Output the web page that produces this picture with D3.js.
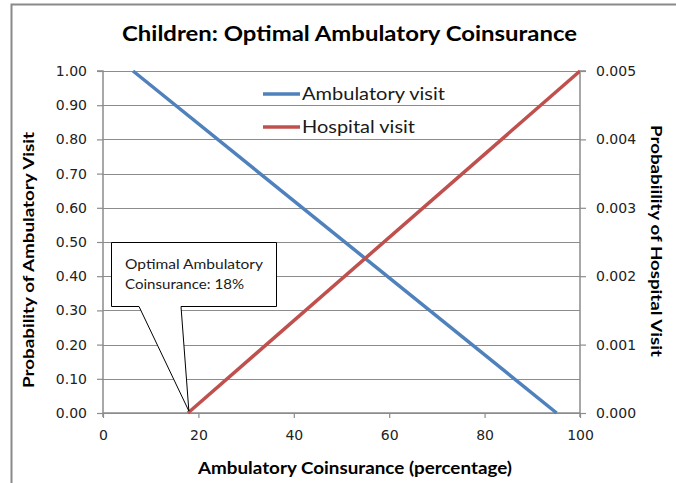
<!DOCTYPE html>
<html>
<head>
<meta charset="utf-8">
<script src="https://cdn.jsdelivr.net/npm/d3@7"></script>
<style>
  html, body { margin: 0; padding: 0; background: #fff; }
  svg { display: block; }
</style>
</head>
<body>
<svg id="chart" width="676" height="483"></svg>
<script>
// ---- data ----
const xTicks = [0, 20, 40, 60, 80, 100];
const leftTicks = [0, 0.1, 0.2, 0.3, 0.4, 0.5, 0.6, 0.7, 0.8, 0.9, 1.0];
const rightTicks = [0, 0.001, 0.002, 0.003, 0.004, 0.005];
const ambulatoryX = [6.3, 95.1];
const ambulatoryY = [1.0, 0.0];
const hospitalX = [17.8, 100];
const hospitalY = [0.0, 0.005];
const seriesNames = ["Ambulatory visit", "Hospital visit"];
const optimalCoinsurance = 18;
const calloutLines = ["Optimal Ambulatory", "Coinsurance: 18%"];
const titleText = "Children: Optimal Ambulatory Coinsurance";
const xTitle = "Ambulatory Coinsurance (percentage)";
const yLeftTitle = "Probability of Ambulatory Visit";
const yRightTitle = "Probabiility of Hospital Visit";

// ---- layout ----
const svg = d3.select("#chart");
const L = 103, R = 580, T = 71, B = 413;
const gridColor = "#8c8c8c";
const blue = "#4F81BD", red = "#C0504D";
const tickFont = "'DejaVu Sans', Verdana, sans-serif";
const titleFont = "Lato, 'Open Sans', sans-serif";

const x = d3.scaleLinear().domain([0, 100]).range([L, R]);
const yL = d3.scaleLinear().domain([0, 1]).range([B, T]);
const yR = d3.scaleLinear().domain([0, 0.005]).range([B, T]);

// outer frame
svg.append("rect").attr("x", 11.5).attr("y", 4.5).attr("width", 700).attr("height", 500)
  .attr("fill", "#fff").attr("stroke", "#8a8a8a").attr("stroke-width", 2);

// gridlines
svg.append("g").selectAll("line").data(leftTicks).join("line")
  .attr("x1", L).attr("x2", R)
  .attr("y1", d => Math.round(yL(d)) + 0.5).attr("y2", d => Math.round(yL(d)) + 0.5)
  .attr("stroke", gridColor).attr("stroke-width", 1);

// axes
const axL = d3.axisLeft(yL).tickValues(leftTicks).tickFormat(d3.format(".2f")).tickSize(6).tickPadding(10);
const axR = d3.axisRight(yR).tickValues(rightTicks).tickFormat(d3.format(".3f")).tickSize(6).tickPadding(10);
const axB = d3.axisBottom(x).tickValues(xTicks).tickFormat(d3.format("d")).tickSize(5).tickPadding(12);

function styleAxis(g) {
  g.select(".domain").attr("stroke", gridColor).attr("stroke-width", 1.5);
  g.selectAll(".tick line").attr("stroke", gridColor).attr("stroke-width", 1.2);
  g.selectAll(".tick text").attr("fill", "#222").style("font-family", tickFont).style("font-size", "14px");
}
svg.append("g").attr("transform", `translate(${L},0)`).call(axL).call(styleAxis)
  .call(g => g.select(".domain").attr("d", `M-6,${T}H0V${B + 4}`));
svg.append("g").attr("transform", `translate(${R},0)`).call(axR).call(styleAxis)
  .call(g => g.select(".domain").attr("d", `M6,${T}H0V${B + 4}`));
svg.append("g").attr("transform", `translate(0,${B})`).call(axB).call(styleAxis)
  .call(g => g.select(".domain").attr("d", `M${L},0H${R}`));

// clip
svg.append("clipPath").attr("id", "plotclip").append("rect")
  .attr("x", L).attr("y", T - 2).attr("width", R - L).attr("height", B - T + 4);

const lineL = d3.line().x(d => x(d[0])).y(d => yL(d[1]));
const lineR = d3.line().x(d => x(d[0])).y(d => yR(d[1]));
const ambData = ambulatoryX.map((v, i) => [v, ambulatoryY[i]]);
const hospData = hospitalX.map((v, i) => [v, hospitalY[i]]);

svg.append("path").attr("d", lineL(ambData)).attr("fill", "none")
  .attr("stroke", blue).attr("stroke-width", 3.5).attr("clip-path", "url(#plotclip)");
svg.append("path").attr("d", lineR(hospData)).attr("fill", "none")
  .attr("stroke", red).attr("stroke-width", 3.5).attr("clip-path", "url(#plotclip)");

// legend
const legend = svg.append("g");
[[blue, 94], [red, 127]].forEach(([c, yy], i) => {
  legend.append("line").attr("x1", 263).attr("x2", 300).attr("y1", yy).attr("y2", yy)
    .attr("stroke", c).attr("stroke-width", 3.5);
  legend.append("text").attr("x", 302).attr("y", yy).attr("dy", "0.36em")
    .attr("fill", "#1a1a1a").style("font-family", titleFont).style("font-size", "18px")
    .attr("textLength", i === 0 ? 143 : 113).attr("lengthAdjust", "spacingAndGlyphs")
    .text(seriesNames[i]);
});

// callout
const tipX = x(optimalCoinsurance), tipY = yL(0) - 2;
const bx0 = 111.5, bx1 = 276.5, by0 = 242.5, by1 = 306.5;
const callout = `M${bx0},${by0}H${bx1}V${by1}H181L${tipX},${tipY}L139,${by1}H${bx0}Z`;
svg.append("path").attr("d", callout).attr("fill", "#fff").attr("stroke", "#000").attr("stroke-width", 1);
calloutLines.forEach((t, i) => {
  svg.append("text").attr("x", 125).attr("y", 264 + i * 20).attr("dy", "0.36em")
    .attr("fill", "#1a1a1a").style("font-family", titleFont).style("font-size", "14px")
    .attr("textLength", i === 0 ? 138 : 119).attr("lengthAdjust", "spacingAndGlyphs")
    .text(t);
});

// titles
svg.append("text").attr("x", 349.5).attr("y", 33).attr("dy", "0.36em").attr("text-anchor", "middle")
  .style("font-family", titleFont).style("font-size", "21px").style("font-weight", "bold")
  .attr("fill", "#000").attr("textLength", 455).attr("lengthAdjust", "spacingAndGlyphs").text(titleText);
svg.append("text").attr("x", 355).attr("y", 468).attr("dy", "0.36em").attr("text-anchor", "middle")
  .style("font-family", titleFont).style("font-size", "17px").style("font-weight", "bold")
  .attr("fill", "#000").attr("textLength", 314).attr("lengthAdjust", "spacingAndGlyphs").text(xTitle);
svg.append("text").attr("transform", "translate(28,260) rotate(-90)").attr("dy", "0.36em").attr("text-anchor", "middle")
  .style("font-family", titleFont).style("font-size", "16px").style("font-weight", "bold")
  .attr("fill", "#000").attr("textLength", 256).attr("lengthAdjust", "spacingAndGlyphs").text(yLeftTitle);
svg.append("text").attr("transform", "translate(657,241) rotate(90)").attr("dy", "0.36em").attr("text-anchor", "middle")
  .style("font-family", titleFont).style("font-size", "16px").style("font-weight", "bold")
  .attr("fill", "#000").attr("textLength", 232).attr("lengthAdjust", "spacingAndGlyphs").text(yRightTitle);
</script>
</body>
</html>
